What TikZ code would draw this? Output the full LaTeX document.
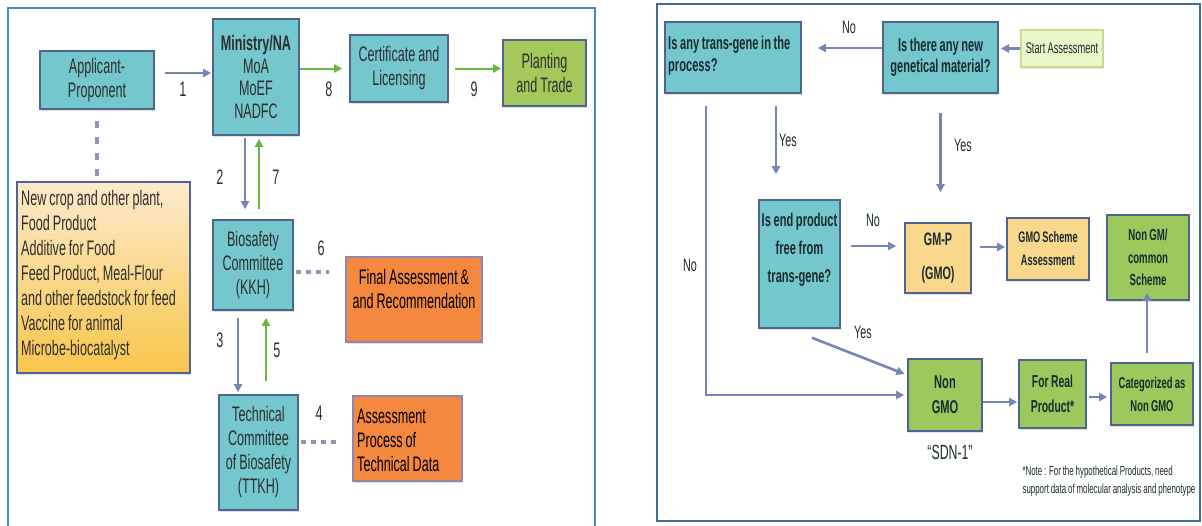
\documentclass[tikz,border=0pt]{standalone}
\usepackage{fontspec}
\setmainfont{Liberation Sans}[FakeStretch=0.6, WordSpace=0.85]
\usetikzlibrary{arrows.meta,shadows}
\newcommand\fsz[2]{\fontsize{#1}{#2}\selectfont}
\definecolor{boxteal}{HTML}{74C7CD}
\definecolor{edgeblue}{HTML}{4F6491}
\definecolor{inkL}{HTML}{2E2E2E}
\definecolor{inkR}{HTML}{1B2A30}
\definecolor{arrowblue}{HTML}{7784B6}
\definecolor{arrowgreen}{HTML}{6AB83E}
\definecolor{dashgray}{HTML}{8D96B8}
\definecolor{orng}{HTML}{F4883F}
\definecolor{orngedge}{HTML}{8E88B0}
\definecolor{plantgreen}{HTML}{A5C85B}
\definecolor{rgreen}{HTML}{9BC95C}
\definecolor{gold}{HTML}{F9D88C}
\definecolor{startfill}{HTML}{ECF6C9}
\definecolor{startedge}{HTML}{C9DB93}
\definecolor{yelTop}{HTML}{FDEACD}
\definecolor{yelBot}{HTML}{F8C64A}
\definecolor{frameL}{HTML}{4A88B9}
\definecolor{frameR}{HTML}{3D6F97}
\tikzset{
  box/.style={draw=edgeblue, line width=1.6pt, align=center, inner sep=2pt,
    drop shadow={shadow xshift=1.2pt, shadow yshift=-2.4pt, opacity=0.25}},
  tealbox/.style={box, fill=boxteal},
  ltext/.style={text=inkL, align=center, font=\fsz{21}{24}},
  rtext/.style={text=inkR, align=center, font=\bfseries\fsz{18.5}{22}},
  arr/.style={draw=arrowblue, line width=2pt, -{Triangle[length=8pt,width=8pt]}},
  rarr/.style={arr, line width=2.6pt},
  garr/.style={draw=arrowgreen, line width=2pt, -{Triangle[length=8pt,width=8pt]}},
  dsh/.style={draw=dashgray, line width=3.5pt, dash pattern=on 7pt off 9pt},
  hdsh/.style={draw=dashgray, line width=3.5pt, dash pattern=on 5pt off 5pt},
  num/.style={text=inkL, font=\fsz{21}{24}},
  lab/.style={text=inkR, font=\fsz{18}{22}},
}
\begin{document}
\begin{tikzpicture}[x=1pt,y=-1pt]
\useasboundingbox (0,0) rectangle (1202,525);

% panel frames
\draw[draw=frameL, line width=1.5pt] (8,8) rectangle (595,545);
\draw[draw=frameR, line width=2pt] (657,4) rectangle (1200,521);

% ---------- approval procedure ----------
\node[tealbox, ltext, minimum width=114pt, minimum height=58pt] (app) at (97,80) {Applicant-\\Proponent};
\node[tealbox, ltext, font=\fsz{21}{22.5}, minimum width=86pt, minimum height=116pt] (min) at (256,77) {\textbf{Ministry/NA}\\MoA\\MoEF\\NADFC};
\node[tealbox, ltext, minimum width=98pt, minimum height=67pt] (cert) at (399,68.5) {Certificate and\\Licensing};
\node[box, fill=plantgreen, ltext, minimum width=83pt, minimum height=66pt] (plant) at (544.5,73) {Planting\\and Trade};
\node[box, top color=yelTop, bottom color=yelBot, minimum width=173pt, minimum height=191pt] (crops) at (103.5,277.5) {};
\node[ltext, font=\fsz{21}{25}, align=left, anchor=west, inner sep=0pt] (cropstxt) at (21,275)
  {New crop and other plant,\\Food Product\\Additive for Food\\Feed Product, Meal-Flour\\and other feedstock for feed\\Vaccine for animal\\Microbe-biocatalyst};
\node[tealbox, ltext, minimum width=80pt, minimum height=90pt] (bio) at (253,265) {Biosafety\\Committee\\(KKH)};
\node[tealbox, ltext, minimum width=79pt, minimum height=115pt] (ttkh) at (258.5,452.5) {Technical\\Committee\\of Biosafety\\(TTKH)};
\node[box, fill=orng, draw=orngedge, minimum width=136pt, minimum height=85pt] (final) at (414,299.5) {};
\node[ltext, text=black] (finaltxt) at (414,288.5) {Final Assessment \&\\and Recommendation};
\node[box, fill=orng, draw=orngedge, minimum width=109pt, minimum height=85pt] (assess) at (407.5,438.5) {};
\node[ltext, text=black, align=left, anchor=west, inner sep=0pt] (assesstxt) at (357,440) {Assessment\\Process of\\Technical Data};

\draw[arr, shorten <=10pt, shorten >=1pt] ([yshift=7pt]app.east) -- ([yshift=7pt]app.east -| min.west);
\draw[garr, shorten >=7pt] (cert.west -| min.east) -- (cert.west);
\draw[garr, shorten <=6pt, shorten >=1pt] (cert.east) -- (cert.east -| plant.west);
\draw[dsh, shorten <=11pt, shorten >=4pt] (app.south) -- (app.south |- crops.north);
\draw[arr, shorten <=2pt, shorten >=10pt] ([xshift=-11pt]min.south) -- ([xshift=-11pt]min.south |- bio.north);
\draw[garr, shorten <=10pt, shorten >=3pt] ([xshift=3pt]min.south |- bio.north) -- ([xshift=3pt]min.south);
\draw[arr, shorten <=7pt, shorten >=2pt] ([xshift=-15pt]bio.south) -- ([xshift=-15pt]bio.south |- ttkh.north);
\draw[garr, shorten <=13pt, shorten >=7pt] ([xshift=13pt]bio.south |- ttkh.north) -- ([xshift=13pt]bio.south);
\draw[hdsh, shorten <=2pt, shorten >=16pt] ([yshift=-7pt]bio.east) -- ([yshift=-7pt]bio.east -| final.west);
\draw[hdsh, shorten <=2pt, shorten >=15pt] ([yshift=10.5pt]ttkh.east) -- ([yshift=10.5pt]ttkh.east -| assess.west);

\node[num] (n1) at (183,89) {1};
\node[num] (n2) at (220,177) {2};
\node[num] (n3) at (220,340) {3};
\node[num] (n4) at (319,413) {4};
\node[num] (n5) at (277,350) {5};
\node[num] (n6) at (321,248) {6};
\node[num] (n7) at (276,177) {7};
\node[num] (n8) at (329,89) {8};
\node[num] (n9) at (474,89) {9};

% ---------- assessment decision tree ----------
\node[tealbox, minimum width=136pt, minimum height=71pt] (trans) at (733,57.5) {};
\node[rtext, align=left, anchor=west, inner sep=0pt] (transtxt) at (668,56) {Is any trans-gene in the\\process?};
\node[tealbox, rtext, font=\bfseries\fsz{18.5}{21}, minimum width=115pt, minimum height=71pt] (newmat) at (940.5,57.5) {Is there any new\\genetical material?};
\node[box, fill=startfill, draw=startedge, line width=1.2pt, text=inkR, font=\fsz{15.5}{18}, minimum width=82pt, minimum height=37pt] (start) at (1062,48.5) {Start Assessment};
\node[tealbox, minimum width=81pt, minimum height=128pt] (endp) at (799.5,264) {};
\node[rtext, font=\bfseries\fsz{18.5}{28}] (endptxt) at (799.5,250) {Is end product\\free from\\trans-gene?};
\node[box, fill=gold, rtext, font=\bfseries\fsz{18}{34}, minimum width=66pt, minimum height=70pt] (gmp) at (938,258) {GM-P\\(GMO)};
\node[box, fill=gold, rtext, font=\bfseries\fsz{15.3}{23}, minimum width=82pt, minimum height=62pt] (gmos) at (1048,249) {GMO Scheme\\Assessment};
\node[box, fill=rgreen, rtext, font=\bfseries\fsz{16}{22.5}, minimum width=82pt, minimum height=85pt] (nongm) at (1148,257.5) {Non GM/\\common\\Scheme};
\node[box, fill=rgreen, rtext, font=\bfseries\fsz{18.5}{25}, minimum width=74pt, minimum height=72pt] (nongmo) at (945,395) {Non\\GMO};
\node[box, fill=rgreen, rtext, font=\bfseries\fsz{17.3}{25}, minimum width=67pt, minimum height=68pt] (real) at (1052.5,394) {For Real\\Product*};
\node[box, fill=rgreen, rtext, font=\bfseries\fsz{15.7}{23}, minimum width=82pt, minimum height=62pt] (cat) at (1152,394) {Categorized as\\Non GMO};
\node[lab, font=\fsz{20.5}{24}] (sdn) at (950,452) {“SDN-1”};
\node[lab, font=\fsz{13.2}{18}, align=left, anchor=west] (note) at (1019,481) {*Note : For the hypothetical Products, need\\support data of molecular analysis and phenotype};

\draw[rarr, shorten >=2pt] (start.west) -- (start.west -| newmat.east);
\draw[rarr, shorten >=16pt] ([yshift=9.5pt]newmat.west) -- ([yshift=9.5pt]newmat.west -| trans.east);
\draw[rarr, shorten <=19pt, shorten >=30pt] (newmat.south) -- (newmat.south |- gmp.north);
\draw[rarr, shorten <=12pt, shorten >=25pt] ([xshift=43pt]trans.south) -- ([xshift=43pt]trans.south |- endp.north);
\draw[rarr, shorten <=10pt, shorten >=8pt] ([yshift=18pt]endp.east) -- ([yshift=18pt]endp.east -| gmp.west);
\draw[rarr, shorten <=8pt, shorten >=1pt] ([yshift=11pt]gmp.east) -- ([yshift=11pt]gmp.east -| gmos.west);
\draw[rarr, shorten <=12pt, shorten >=3pt] ([xshift=-27pt]trans.south) |- (nongmo.west);
\draw[rarr, shorten >=3pt] ([xshift=12.5pt,yshift=-9pt]endp.south) -- ([yshift=20pt]nongmo.west);
\draw[rarr, shorten >=1pt] ([yshift=-7pt]nongmo.east) -- ([yshift=-7pt]nongmo.east -| real.west);
\draw[rarr, shorten <=2pt, shorten >=3pt] ([yshift=-3pt]real.east) -- ([yshift=-3pt]real.east -| cat.west);
\draw[rarr, shorten <=9pt, shorten >=-8pt] ([xshift=-5pt]cat.north) -- ([xshift=-5pt]cat.north |- nongm.south);

\node[lab] (lno1) at (849,27) {No};
\node[lab] (lyes1) at (963,145) {Yes};
\node[lab] (lyes2) at (788,140) {Yes};
\node[lab] (lno2) at (873,220) {No};
\node[lab] (lno3) at (690,265) {No};
\node[lab] (lyes3) at (863,332) {Yes};
\end{tikzpicture}
\end{document}
